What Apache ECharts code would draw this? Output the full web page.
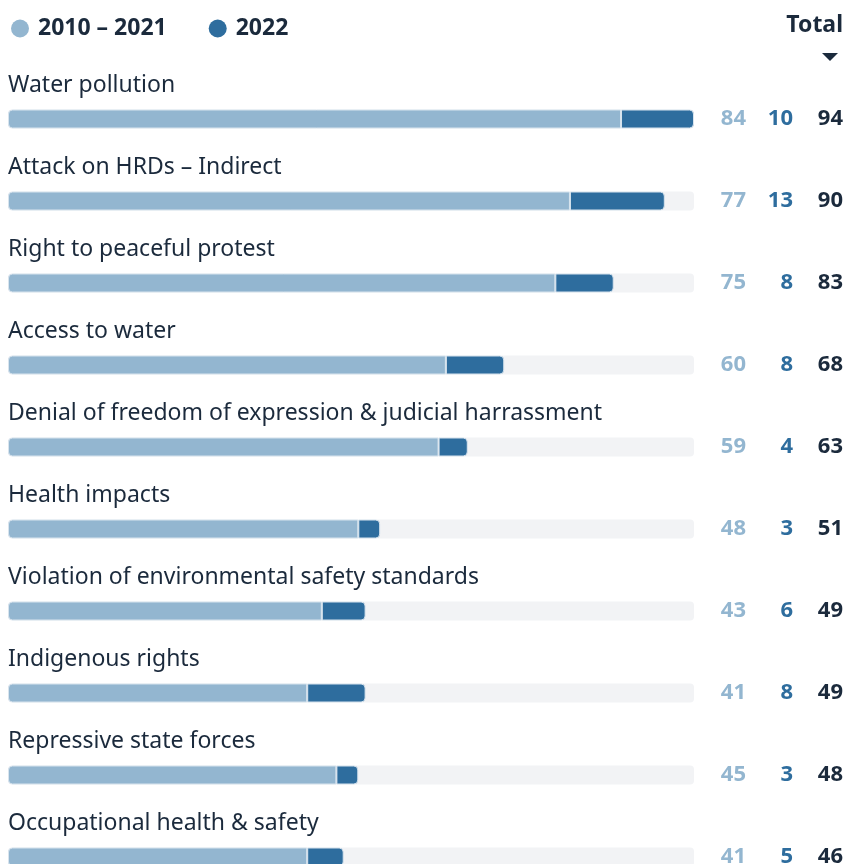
<!DOCTYPE html>
<html><head><meta charset="utf-8">
<script src="https://cdn.jsdelivr.net/npm/echarts@6/dist/echarts.min.js"></script>
<style>html,body{margin:0;padding:0;background:#fff;overflow:hidden;height:864px}#c{width:846px;height:930px}</style>
</head><body><div id="c"></div>
<script>
const categories = ["Water pollution","Attack on HRDs – Indirect","Right to peaceful protest","Access to water","Denial of freedom of expression & judicial harrassment","Health impacts","Violation of environmental safety standards","Indigenous rights","Repressive state forces","Occupational health & safety"];
const values2010to2021 = [84,77,75,60,59,48,43,41,45,41];
const values2022 = [10,13,8,8,4,3,6,8,3,5];
const totals = [94,90,83,68,63,51,49,49,48,46];
const seriesNames = ["2010 – 2021","2022"];

const FONT = "Noto Sans";
const LIGHT = "#93b6d0", DARK = "#2e6d9e", NAVY = "#1b2a3c";
const chart = echarts.init(document.getElementById('c'));
const rightAxis = (data, margin, color) => ({
  type:'category', position:'right', inverse:true, data: data.map(String), gridIndex:0,
  axisLine:{show:false}, axisTick:{show:false},
  axisLabel:{align:'right', margin:margin, color:color, fontFamily:FONT, fontWeight:'bold', fontSize:22}
});
chart.setOption({
  animation:false,
  textStyle:{fontFamily:FONT},
  legend:{
    left:6, top:12, icon:'circle', itemWidth:18, itemHeight:18, itemGap:42,
    data:seriesNames,
    itemStyle:{borderWidth:0},
    textStyle:{fontFamily:FONT, fontWeight:'bold', fontSize:23, color:NAVY, padding:[0,0,0,4]}
  },
  grid:{left:8, top:78, width:686, height:820, containLabel:false},
  xAxis:{type:'value', min:0, max:94, show:false},
  yAxis:[
    {type:'category', inverse:true, data:categories, show:false},
    rightAxis(values2010to2021, 52, LIGHT),
    rightAxis(values2022, 99, DARK),
    rightAxis(totals, 149, NAVY)
  ],
  series:[
    {name:seriesNames[0], type:'bar', stack:'s', data:values2010to2021, barWidth:19,
     showBackground:true, backgroundStyle:{color:'#f2f3f5', borderRadius:4},
     itemStyle:{color:LIGHT, borderColor:'#d8e4ee', borderWidth:1, borderRadius:[4,0,0,4]},
     label:{show:true, position:[0,-24], verticalAlign:'middle', align:'left',
       formatter:p=>categories[p.dataIndex], color:NAVY, fontFamily:FONT, fontSize:23}},
    {name:seriesNames[1], type:'bar', stack:'s', data:values2022, barWidth:19,
     itemStyle:{color:DARK, borderColor:'#d8e4ee', borderWidth:1, borderRadius:[0,4,4,0]}}
  ],
  graphic:[
    {type:'text', right:3, top:14, style:{text:'Total', font:'bold 23px "Noto Sans"', fill:NAVY}},
    {type:'polygon', shape:{points:[[822,53],[838,53],[830,61]]}, style:{fill:NAVY}}
  ]
});
</script></body></html>
